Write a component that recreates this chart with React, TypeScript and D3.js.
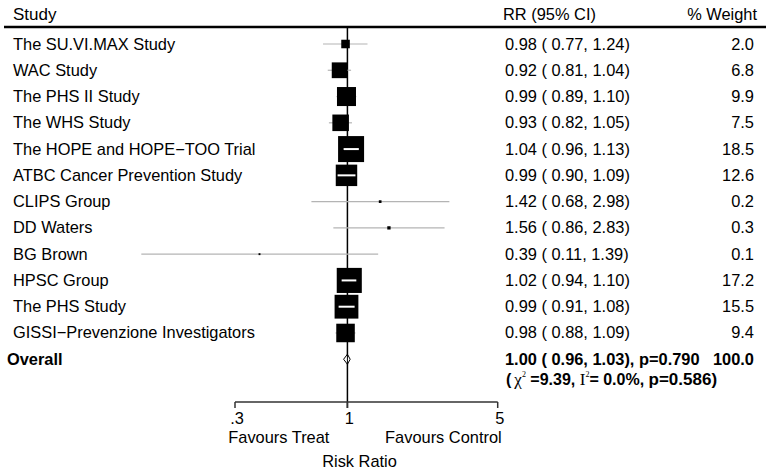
import * as d3 from "d3";

const studies = [
  "The SU.VI.MAX Study",
  "WAC Study",
  "The PHS II Study",
  "The WHS Study",
  "The HOPE and HOPE\u2212TOO Trial",
  "ATBC Cancer Prevention Study",
  "CLIPS Group",
  "DD Waters",
  "BG Brown",
  "HPSC Group",
  "The PHS Study",
  "GISSI\u2212Prevenzione Investigators",
];
const rr = [0.98, 0.92, 0.99, 0.93, 1.04, 0.99, 1.42, 1.56, 0.39, 1.02, 0.99, 0.98];
const lo = [0.77, 0.81, 0.89, 0.82, 0.96, 0.9, 0.68, 0.86, 0.11, 0.94, 0.91, 0.88];
const hi = [1.24, 1.04, 1.1, 1.05, 1.13, 1.09, 2.98, 2.83, 1.39, 1.1, 1.08, 1.09];
const weights = [2.0, 6.8, 9.9, 7.5, 18.5, 12.6, 0.2, 0.3, 0.1, 17.2, 15.5, 9.4];

const overall = { rr: 1.0, lo: 0.96, hi: 1.03, p: "0.790", weight: 100.0 };
const hetero = { chi2: "9.39", i2: "0.0%", p: "0.586" };
const xTicks = [0.3, 1, 5];
const xTickLabels = [".3", "1", "5"];

const W = 766;
const H = 474;
const FONT = "'Liberation Sans', Arial, Helvetica, sans-serif";
const SERIF = "'Liberation Serif', serif";
const FS = 16.4;

const fmt = d3.format(".2f");

const App = () => {
  const x = d3.scaleLog().domain([0.3, 5]).range([235, 497.7]);
  const y = d3
    .scalePoint<string>()
    .domain([...studies, "Overall"])
    .range([44, 44 + 12 * 26.27]);
  const size = d3.scaleSqrt().domain([0, 18.5]).range([0, 26]);

  const rows = studies.map((s, i) => ({
    name: s,
    rr: rr[i],
    lo: lo[i],
    hi: hi[i],
    w: weights[i],
  }));

  const axisY = 402;
  const yo = y("Overall") || 0;

  return (
    <svg
      width={W}
      height={H}
      style={{ position: "absolute", left: 0, top: 0, background: "#fff" }}
      fontFamily={FONT}
      fontSize={FS}
    >
      {/* header */}
      <text x={13} y={20} fontSize={17}>Study</text>
      <text x={503} y={20}>RR (95% CI)</text>
      <text x={757} y={20} textAnchor="end">% Weight</text>
      <line x1={4} x2={W} y1={27} y2={27} stroke="#000" strokeWidth={2.5} />

      {/* null line */}
      <line x1={x(1)} x2={x(1)} y1={27} y2={axisY + 6} stroke="#000" strokeWidth={1.5} />

      {rows.map((d) => {
        const cy = y(d.name) || 0;
        const s = size(d.w);
        const cx = x(d.rr);
        const inside = x(d.lo) >= cx - s / 2 && x(d.hi) <= cx + s / 2;
        return (
          <g key={d.name}>
            {!inside && (
              <line x1={x(d.lo)} x2={x(d.hi)} y1={cy} y2={cy} stroke="#b4b4b4" strokeWidth={1.2} />
            )}
            <rect x={cx - s / 2} y={cy - s / 2} width={s} height={s} fill="#000" />
            {inside && (
              <line x1={x(d.lo)} x2={x(d.hi)} y1={cy} y2={cy} stroke="#fff" strokeWidth={2} />
            )}
            <text x={13} y={cy + 5.5}>{d.name}</text>
            <text x={505} y={cy + 5.5}>
              {`${fmt(d.rr)} ( ${fmt(d.lo)}, ${fmt(d.hi)})`}
            </text>
            <text x={754} y={cy + 5.5} textAnchor="end">{d.w.toFixed(1)}</text>
          </g>
        );
      })}

      {/* overall */}
      <path
        d={`M${x(overall.lo)},${yo} L${x(overall.rr)},${yo - 5} L${x(overall.hi)},${yo} L${x(overall.rr)},${yo + 5} Z`}
        fill="#fff"
        stroke="#000"
        strokeWidth={1}
      />
      <line x1={x(1)} x2={x(1)} y1={yo - 5} y2={yo + 5} stroke="#000" strokeWidth={1} />
      <text x={7} y={yo + 5.5} fontWeight="bold">Overall</text>
      <text x={505} y={yo + 5.5} fontWeight="bold">
        {`${fmt(overall.rr)} ( ${fmt(overall.lo)}, ${fmt(overall.hi)}), p=${overall.p}`}
      </text>
      <text x={754} y={yo + 5.5} textAnchor="end" fontWeight="bold">
        {overall.weight.toFixed(1)}
      </text>
      <text x={506} y={yo + 26} fontWeight="bold" fontSize={16}>
        <tspan>(</tspan>
        <tspan fontFamily={SERIF} fontWeight="normal" fontSize={17} dx={3}>{"\u03c7"}</tspan>
        <tspan fontSize={8} dy={-8} fontFamily={SERIF} fontWeight="normal">2</tspan>
        <tspan dy={8}>{` =${hetero.chi2}, `}</tspan>
        <tspan fontFamily={SERIF} fontWeight="normal" fontSize={17}>I</tspan>
        <tspan fontSize={8} dy={-8} fontFamily={SERIF} fontWeight="normal">2</tspan>
        <tspan dy={8}>{`= ${hetero.i2}, `}</tspan>
        <tspan fontSize={FS + 0.6}>{`p=${hetero.p})`}</tspan>
      </text>

      {/* axis */}
      <line x1={x(0.3)} x2={x(5)} y1={axisY} y2={axisY} stroke="#333" strokeWidth={1.5} />
      {xTicks.map((t, i) => (
        <g key={t}>
          <line x1={x(t)} x2={x(t)} y1={axisY} y2={axisY + 6} stroke="#333" strokeWidth={1.5} />
          <text x={x(t) + 2} y={axisY + 22} textAnchor="middle">{xTickLabels[i]}</text>
        </g>
      ))}
      <text x={x(1) - 18} y={axisY + 41} textAnchor="end">Favours Treat</text>
      <text x={x(5) + 4} y={axisY + 41} textAnchor="end">Favours Control</text>
      <text x={359.5} y={467} textAnchor="middle">Risk Ratio</text>
    </svg>
  );
};

export default App;
